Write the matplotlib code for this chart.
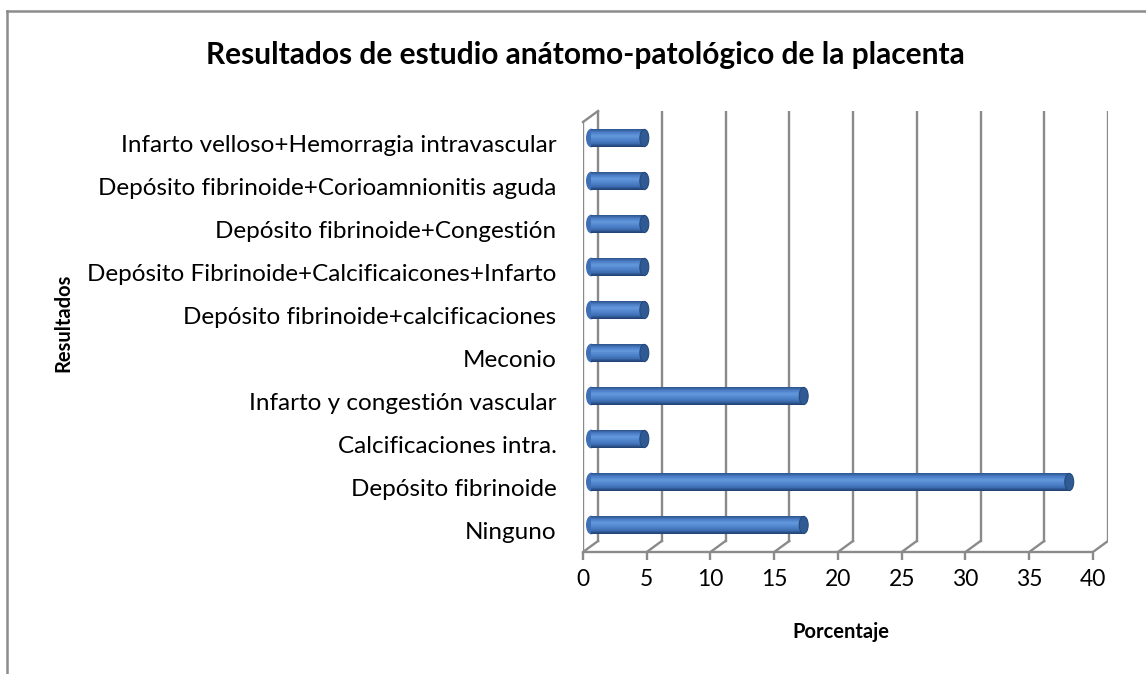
import numpy as np
import matplotlib.pyplot as plt
from matplotlib.patches import Ellipse
from matplotlib.lines import Line2D
from matplotlib.colors import LinearSegmentedColormap

# data (percent of cases)
resultados = ["Ninguno", "Depósito fibrinoide", "Calcificaciones intra.",
              "Infarto y congestión vascular", "Meconio",
              "Depósito fibrinoide+calcificaciones",
              "Depósito Fibrinoide+Calcificaicones+Infarto",
              "Depósito fibrinoide+Congestión",
              "Depósito fibrinoide+Corioamnionitis aguda",
              "Infarto velloso+Hemorragia intravascular"]
porcentaje = [16.67, 37.5, 4.17, 16.67, 4.17, 4.17, 4.17, 4.17, 4.17, 4.17]
x_ticks = [0, 5, 10, 15, 20, 25, 30, 35, 40]

plt.rcParams['font.family'] = ['Lato', 'DejaVu Sans']

fig = plt.figure(figsize=(11.46, 6.74), dpi=100)
W, H = 1146, 674
ax = fig.add_axes([583 / W, 1 - 552 / H, 525 / W, 441 / H])

# half of the 3d depth offset, in data units
hx = 0.59
hy = 0.128
grid_c = '#8a8a8a'
n = len(resultados)

ax.set_xlim(-hx, 40 + hx)
ax.set_ylim(-0.5 - hy, n - 0.5 + hy)

# back wall gridlines
for v in x_ticks:
    ax.plot([v + hx, v + hx], [-0.5 + hy, n - 0.5 + hy], color=grid_c, lw=1.7, zorder=1)
    # floor diagonals
    ax.plot([v - hx, v + hx], [-0.5 - hy, -0.5 + hy], color=grid_c, lw=1.7, zorder=1)
# front floor edge and left wall
ax.plot([-hx, 40 - hx], [-0.5 - hy, -0.5 - hy], color=grid_c, lw=1.7, zorder=1, clip_on=False)
ax.plot([-hx, -hx], [-0.5 - hy, n - 0.5 - hy], color=grid_c, lw=1.7, zorder=1)
ax.plot([-hx, hx], [n - 0.5 - hy, n - 0.5 + hy], color=grid_c, lw=1.7, zorder=1, clip_on=False)

# cylinder shading
cmap = LinearSegmentedColormap.from_list("cyl", [
    (0.0, '#2c5288'), (0.12, '#4677c0'), (0.38, '#6297dc'),
    (0.6, '#4f84cc'), (0.85, '#3a69ad'), (1.0, '#203f6e')])
bh = 0.4
nslice = 24
edges = np.linspace(-bh / 2, bh / 2, nslice + 1)
for i, val in enumerate(porcentaje):
    ax.add_patch(Ellipse((0.05, i), 0.7, bh, color='#3f70b6', zorder=3))
    for k in range(nslice):
        t = 1 - (k + 0.5) / nslice
        ax.barh(i + (edges[k] + edges[k + 1]) / 2, val, height=bh / nslice + 0.002,
                left=0.05, color=cmap(t), linewidth=0, zorder=4)
    ax.add_patch(Ellipse((val + 0.05, i), 0.7, bh, facecolor='#2f5a94',
                         edgecolor='#254a7c', lw=0.8, zorder=5))

ax.set_xticks([v - hx for v in x_ticks])
ax.set_xticklabels([str(v) for v in x_ticks])
ax.set_yticks([i - hy for i in range(n)])
ax.set_yticklabels(resultados)
ax.tick_params(axis='x', length=6, width=1.7, color=grid_c, labelsize=16.5, pad=6)
ax.tick_params(axis='y', length=0, labelsize=17.5, pad=19)
for s in ax.spines.values():
    s.set_visible(False)

fig.text(585 / W, 1 - 55 / H, "Resultados de estudio anátomo-patológico de la placenta",
         ha='center', va='center', fontsize=21.5, fontweight='bold')
fig.text(841 / W, 1 - 632 / H, "Porcentaje", ha='center', va='center',
         fontsize=14.5, fontweight='bold')
fig.text(63 / W, 1 - 323 / H, "Resultados", ha='center', va='center',
         fontsize=14.5, fontweight='bold', rotation=90)

# chart border
fig.add_artist(Line2D([7 / W, 7 / W], [0, 1 - 11 / H], color='#8c8c8c', lw=1.8))
fig.add_artist(Line2D([7 / W, 1], [1 - 11 / H, 1 - 11 / H], color='#8c8c8c', lw=1.8))

plt.savefig("out.png", dpi=100)
